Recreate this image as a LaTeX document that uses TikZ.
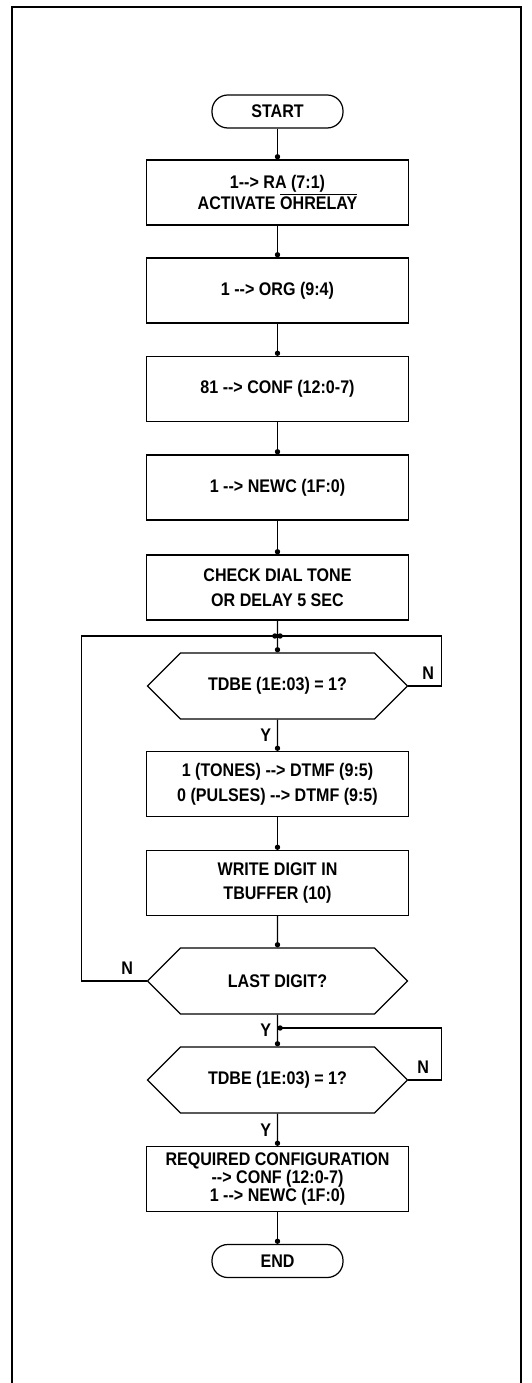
\documentclass[tikz,border=0pt]{standalone}
\usepackage{fontspec}
\newfontfamily\flowfont[FakeStretch=0.88]{Liberation Sans}
\usetikzlibrary{arrows.meta,shapes.symbols}
\tikzset{
  lbl/.style={font={\flowfont\bfseries\fontsize{10.4}{14}\selectfont}},
  stepbox/.style={lbl, draw, line width=0.7pt, minimum width=5.24cm, minimum height=1.3cm, align=center},
  termbox/.style={lbl, draw, line width=0.7pt, rounded corners=9pt, minimum width=2.62cm, minimum height=0.66cm},
  testbox/.style={lbl, draw, line width=0.7pt, shape=signal, signal to=west and east, signal pointer angle=90, minimum width=5.2cm, minimum height=1.32cm},
  flow/.style={line width=0.7pt, -{Circle[length=3pt]}}
}

\begin{document}
\begin{tikzpicture}
    \useasboundingbox (0,0) rectangle (10.62,-27.66);
    % page frame, open at the bottom
    \draw[line width=1pt] (0.24,-27.66) -- (0.24,-0.14) -- (10.42,-0.14) -- (10.42,-27.66);
    % set up the line
    \node[termbox] (start) at (5.55,-2.23) {START};
    \node[stepbox] (ra) at (5.55,-3.85) {1-{}-> RA (7:1)\\[-2pt] ACTIVATE $\overline{\mbox{OHRELAY}}$};
    \node[stepbox] (org) at (5.55,-5.81) {1 -{}-> ORG (9:4)};
    \node[stepbox] (conf) at (5.55,-7.78) {81 -{}-> CONF (12:0-7)};
    \node[stepbox] (newc) at (5.55,-9.75) {1 -{}-> NEWC (1F:0)};
    \node[stepbox] (tone) at (5.55,-11.75) {CHECK DIAL TONE\\ OR DELAY 5 SEC};
    % digit loop
    \coordinate (j1) at (5.55,-12.72);
    \node[testbox] (tdbe) at (5.55,-13.72) {TDBE (1E:03) = 1?};
    \node[stepbox] (dtmf) at (5.55,-15.68) {1 (TONES) -{}-> DTMF (9:5)\\ 0 (PULSES) -{}-> DTMF (9:5)};
    \node[stepbox] (wr) at (5.55,-17.66) {WRITE DIGIT IN\\ TBUFFER (10)};
    \node[testbox] (last) at (5.55,-19.62) {LAST DIGIT?};
    % wait for the buffer, then restore
    \coordinate (j2) at (5.55,-20.56);
    \node[testbox] (tdbeb) at (5.55,-21.60) {TDBE (1E:03) = 1?};
    \node[stepbox, font={\flowfont\bfseries\fontsize{10.4}{10}\selectfont}] (req) at (5.55,-23.58) {REQUIRED CONFIGURATION\\ -{}-> CONF (12:0-7)\\ 1 -{}-> NEWC (1F:0)};
    \node[termbox] (end) at (5.55,-25.22) {END};
    % connectors
    \draw[flow] (start) -- (ra);
    \draw[flow] (ra) -- (org);
    \draw[flow] (org) -- (conf);
    \draw[flow] (conf) -- (newc);
    \draw[flow] (newc) -- (tone);
    \draw[flow] (tone) -- (tdbe);
    \draw[flow] (tdbe.east) -- node[lbl, above, pos=0.6] {N} ++(0.66,0) |- (j1);
    \draw[flow] (tdbe) -- node[lbl, left] {Y} (dtmf);
    \draw[flow] (dtmf) -- (wr);
    \draw[flow] (wr) -- (last);
    \draw[flow] (last.west) -- node[lbl, above, pos=0.3] {N} ++(-1.3,0) |- (j1);
    \draw[flow] (last) -- node[lbl, left] {Y} (tdbeb);
    \draw[flow] (tdbeb.east) -- node[lbl, above, pos=0.45] {N} ++(0.66,0) |- (j2);
    \draw[flow] (tdbeb) -- node[lbl, left] {Y} (req);
    \draw[flow] (req) -- (end);
\end{tikzpicture}
\end{document}
